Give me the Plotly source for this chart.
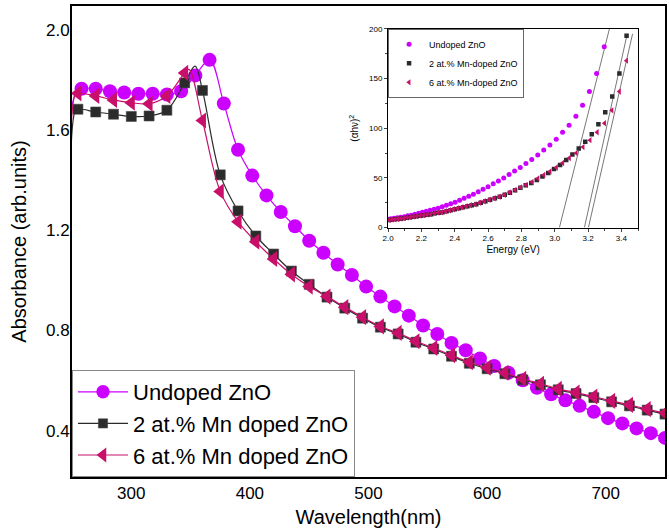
import plotly.graph_objects as go

# ---------------- main chart data (wavelength nm, absorbance) ----------------
wl_undoped = [258, 270, 282, 294, 306, 318, 330, 342, 354, 366, 378, 390, 402, 414, 426,
              438, 450, 462, 474, 486, 498, 510, 522, 534, 546, 558, 570, 582, 594, 606,
              618, 630, 642, 654, 666, 678, 690, 702, 714, 726, 738, 750]
abs_undoped = [1.765, 1.765, 1.755, 1.750, 1.745, 1.745, 1.742, 1.755, 1.818, 1.880, 1.706,
               1.521, 1.418, 1.339, 1.273, 1.216, 1.158, 1.110, 1.063, 1.021, 0.975, 0.935,
               0.896, 0.859, 0.820, 0.786, 0.750, 0.721, 0.688, 0.658, 0.631, 0.601, 0.571,
               0.545, 0.521, 0.499, 0.475, 0.450, 0.429, 0.409, 0.390, 0.371]

wl_mn2 = [255, 270, 285, 300, 315, 330, 345, 360, 375, 390, 405, 420, 435, 450, 465, 480,
          495, 510, 525, 540, 555, 570, 585, 600, 615, 630, 645, 660, 675, 690, 705, 720,
          735, 750]
abs_mn2 = [1.683, 1.672, 1.663, 1.654, 1.656, 1.679, 1.788, 1.758, 1.421, 1.277, 1.177,
           1.105, 1.037, 0.984, 0.933, 0.889, 0.849, 0.813, 0.786, 0.753, 0.726, 0.697,
           0.669, 0.647, 0.627, 0.603, 0.583, 0.563, 0.548, 0.532, 0.515, 0.499, 0.482,
           0.466]

wl_mn6 = [255, 270, 285, 300, 315, 330, 345, 360, 375, 390, 405, 420, 435, 450, 465, 480,
          495, 510, 525, 540, 555, 570, 585, 600, 615, 630, 645, 660, 675, 690, 705, 720,
          735, 750]
abs_mn6 = [1.746, 1.736, 1.720, 1.709, 1.705, 1.736, 1.828, 1.638, 1.355, 1.234, 1.154,
           1.085, 1.024, 0.975, 0.935, 0.893, 0.853, 0.816, 0.790, 0.757, 0.730, 0.701,
           0.673, 0.651, 0.631, 0.607, 0.587, 0.567, 0.552, 0.536, 0.519, 0.503, 0.486,
           0.470]

# line-only points (steep rise at the left edge, sharp peaks between markers)
edge_wl = [250.6, 252.3]
edge_undoped = [0.10, 1.74]
edge_mn2 = [0.10, 1.67]
edge_mn6 = [0.10, 1.735]
peak_mn2_wl = [353.8]
peak_mn2 = [1.855]
peak_mn6_wl = [348.7]
peak_mn6 = [1.842]

# ---------------- inset data (energy eV, (alpha h nu)^2) ----------------
e_undoped = [3.297, 3.251, 3.208, 3.167, 3.127, 3.086, 3.047, 3.009, 2.971, 2.934, 2.898,
             2.862, 2.827, 2.793, 2.759, 2.726, 2.694, 2.662, 2.631, 2.600, 2.570, 2.541,
             2.512, 2.484, 2.456, 2.429, 2.402, 2.376, 2.350, 2.325, 2.300, 2.276, 2.252,
             2.229, 2.206, 2.183, 2.161, 2.139, 2.118, 2.097, 2.076, 2.056, 2.036, 2.017,
             2.000]
ahv_undoped = [182, 155, 137, 123, 112, 103, 96, 89, 83, 78, 73, 68.5, 64.5, 60.5, 57, 53.5,
               50, 47, 44, 41, 38.5, 36, 33.5, 31.5, 29.5, 27.5, 25.5, 24, 22.5, 21, 19.5,
               18.5, 17.5, 16.5, 15.5, 14.5, 13.5, 12.5, 12, 11, 10.5, 10, 9.5, 9, 8.5]

e_mn2 = [3.431, 3.388, 3.345, 3.303, 3.262, 3.222, 3.183, 3.144, 3.106, 3.069, 3.032, 2.996,
         2.961, 2.926, 2.892, 2.859, 2.826, 2.794, 2.762, 2.731, 2.700, 2.670, 2.641, 2.612,
         2.584, 2.556, 2.529, 2.502, 2.476, 2.450, 2.425, 2.400, 2.375, 2.351, 2.327, 2.304,
         2.281, 2.259, 2.237, 2.215, 2.194, 2.173, 2.153, 2.133, 2.113, 2.094, 2.075, 2.056,
         2.038, 2.020, 2.002]
ahv_mn2 = [193, 155, 132, 116, 104, 94, 86.5, 79.5, 73.5, 68, 63, 59, 55, 51.5, 48, 45, 42.5,
           40, 37.5, 35, 33, 31, 29.5, 28, 26.5, 25, 23.5, 22.5, 21.5, 20.5, 19.5, 18.5, 17.5,
           16.5, 15.5, 15, 14.5, 13.5, 13, 12.5, 12, 11.5, 11, 10.5, 10, 9.5, 9, 8.7, 8.3, 8,
           7.7]

e_mn6 = [3.431, 3.388, 3.343, 3.299, 3.255, 3.212, 3.170, 3.129, 3.088, 3.048, 3.010, 2.972,
         2.935, 2.899, 2.864, 2.829, 2.795, 2.762, 2.730, 2.698, 2.667, 2.637, 2.607, 2.578,
         2.550, 2.522, 2.495, 2.469, 2.443, 2.418, 2.393, 2.369, 2.345, 2.322, 2.299, 2.277,
         2.255, 2.234, 2.213, 2.192, 2.172, 2.152, 2.133, 2.114, 2.095, 2.077, 2.059, 2.041,
         2.024, 2.007]
ahv_mn6 = [168, 137, 118, 105, 96, 88, 81, 75, 70, 65, 60.5, 56.5, 53, 49.5, 46, 43, 40.5, 38,
           35.5, 33, 31, 29.5, 28, 26.5, 25, 23.5, 22.5, 21.5, 20.5, 19.5, 18.5, 17.5, 16.5,
           15.5, 15, 14.5, 13.5, 13, 12.5, 12, 11.5, 11, 10.5, 10, 9.5, 9, 8.7, 8.3, 8, 7.6]

# tangent (Tauc) fit lines: [E at zero, E at top], [0, top value]
fit1_e = [3.028, 3.331]
fit1_v = [0, 202]
fit2_e = [3.178, 3.435]
fit2_v = [0, 195]
fit3_e = [3.202, 3.467]
fit3_v = [0, 195]

# tick values
main_xticks = [300, 400, 500, 600, 700]
main_yticks = [0.4, 0.8, 1.2, 1.6, 2.0]
inset_xticks = [2.0, 2.2, 2.4, 2.6, 2.8, 3.0, 3.2, 3.4]
inset_yticks = [0, 50, 100, 150, 200]

FONT = "Liberation Sans, Arial, sans-serif"
C_UN = "#CC00FF"
C_M2 = "#2B2B2B"
C_M6 = "#C8106A"


def merge(marker_x, marker_y, extra_x, extra_y, size):
    pts = [(x, y, size) for x, y in zip(marker_x, marker_y)]
    pts += [(x, y, 0) for x, y in zip(extra_x, extra_y)]
    pts.sort(key=lambda p: p[0])
    return [p[0] for p in pts], [p[1] for p in pts], [p[2] for p in pts]


fig = go.Figure()

x, y, s = merge(wl_undoped, abs_undoped, edge_wl, edge_undoped, 14)
fig.add_trace(go.Scatter(x=x, y=y, mode="lines+markers", name="Undoped ZnO",
                         line=dict(color=C_UN, width=1.2, shape="spline"),
                         marker=dict(symbol="circle", size=s, color=C_UN, opacity=1,
                                     line=dict(width=0))))

x, y, s = merge(wl_mn2, abs_mn2, edge_wl + peak_mn2_wl, edge_mn2 + peak_mn2, 10)
fig.add_trace(go.Scatter(x=x, y=y, mode="lines+markers", name="2 at.% Mn doped ZnO",
                         line=dict(color=C_M2, width=1.2, shape="spline"),
                         marker=dict(symbol="square", size=s, color=C_M2, opacity=1,
                                     line=dict(width=0.6, color="#444444"))))

x, y, s = merge(wl_mn6, abs_mn6, edge_wl + peak_mn6_wl, edge_mn6 + peak_mn6, 14)
fig.add_trace(go.Scatter(x=x, y=y, mode="lines+markers", name="6 at.% Mn doped ZnO",
                         line=dict(color=C_M6, width=1.2, shape="spline"),
                         marker=dict(symbol="triangle-left", size=s, color=C_M6, opacity=1,
                                     line=dict(width=0))))

# ---------------- inset ----------------
for xe, ye in [(fit1_e, fit1_v), (fit2_e, fit2_v), (fit3_e, fit3_v)]:
    fig.add_trace(go.Scatter(x=xe, y=ye, mode="lines", xaxis="x2", yaxis="y2",
                             line=dict(color="#555555", width=0.8), showlegend=False,
                             hoverinfo="skip"))

fig.add_trace(go.Scatter(x=e_undoped, y=ahv_undoped, mode="markers", name="Undoped ZnO",
                         xaxis="x2", yaxis="y2", legend="legend2",
                         marker=dict(symbol="circle", size=5, color=C_UN)))
fig.add_trace(go.Scatter(x=e_mn2, y=ahv_mn2, mode="markers", name="2 at.% Mn-doped ZnO",
                         xaxis="x2", yaxis="y2", legend="legend2",
                         marker=dict(symbol="square", size=4.5, color=C_M2)))
fig.add_trace(go.Scatter(x=e_mn6, y=ahv_mn6, mode="markers", name="6 at.% Mn-doped ZnO",
                         xaxis="x2", yaxis="y2", legend="legend2",
                         marker=dict(symbol="triangle-left", size=5.5, color=C_M6)))

fig.update_layout(
    width=669, height=531,
    margin=dict(l=72, r=2, t=3, b=54),
    paper_bgcolor="white", plot_bgcolor="white",
    font=dict(family=FONT, color="black"),
    xaxis=dict(range=[250, 750], tickvals=main_xticks, showgrid=False, zeroline=False,
               showline=True, linecolor="black", linewidth=2, mirror=True, ticks="",
               tickfont=dict(size=17),
               title=dict(text="Wavelength(nm)", font=dict(size=20), standoff=8)),
    yaxis=dict(range=[0.215, 2.095], tickvals=main_yticks, tickformat=".1f",
               showgrid=False, zeroline=False, showline=True, linecolor="black",
               linewidth=2, mirror=True, ticks="", tickfont=dict(size=17),
               ticklabelstandoff=-3,
               title=dict(text="Absorbance (arb.units)", font=dict(size=20), standoff=14)),
    xaxis2=dict(domain=[0.533, 0.9546], anchor="y2", range=[2.0, 3.5],
                tickvals=inset_xticks, tickformat=".1f", showgrid=False, zeroline=False,
                showline=True, linecolor="black", linewidth=1, mirror=True,
                ticks="outside", ticklen=3, tickwidth=1, tickfont=dict(size=8),
                minor=dict(ticks="outside", ticklen=2, dtick=0.1, tickwidth=1),
                title=dict(text="Energy (eV)", font=dict(size=10), standoff=3)),
    yaxis2=dict(domain=[0.5295, 0.9515], anchor="x2", range=[0, 200],
                tickvals=inset_yticks, showgrid=False, zeroline=False,
                showline=True, linecolor="black", linewidth=1, mirror=True,
                ticks="outside", ticklen=3, tickwidth=1, tickfont=dict(size=8),
                minor=dict(ticks="outside", ticklen=2, dtick=25, tickwidth=1),
                title=dict(text="(αhν)<sup>2</sup>", font=dict(size=10), standoff=8)),
    legend=dict(x=0, y=0, xanchor="left", yanchor="bottom", bgcolor="white",
                bordercolor="#888888", borderwidth=1, font=dict(size=22, family=FONT),
                itemwidth=50, tracegroupgap=0),
    legend2=dict(x=0.533, y=0.9515, xanchor="left", yanchor="top", bgcolor="white",
                 bordercolor="#666666", borderwidth=1, font=dict(size=9, family=FONT),
                 tracegroupgap=0, itemwidth=30),
)

fig.write_html("out.html", config={"displayModeBar": False},
               post_script="document.body.style.margin='0';document.body.style.padding='0';")
